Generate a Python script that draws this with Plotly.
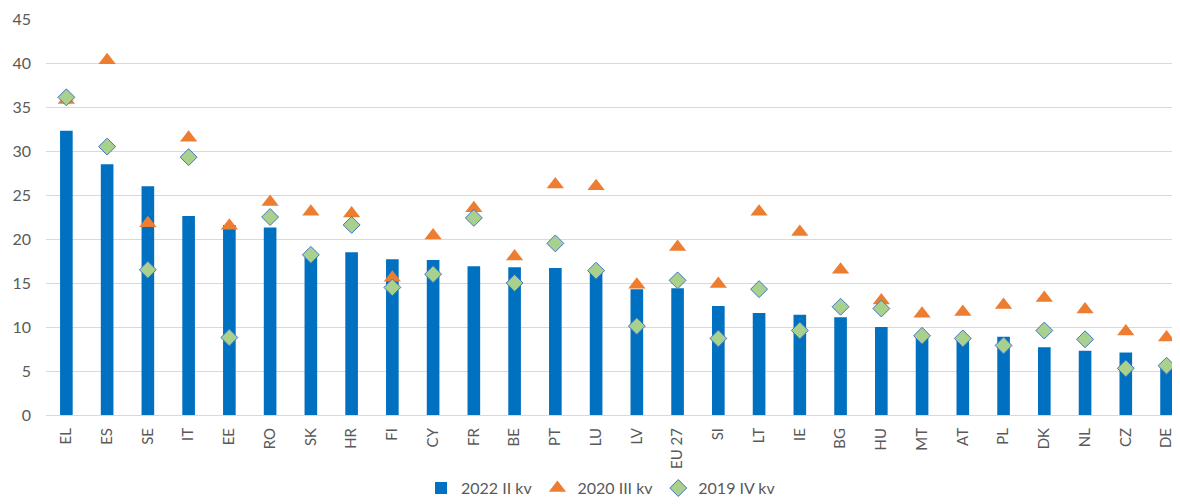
import plotly.graph_objects as go

countries = ["EL", "ES", "SE", "IT", "EE", "RO", "SK", "HR", "FI", "CY", "FR", "BE", "PT", "LU",
             "LV", "EU 27", "SI", "LT", "IE", "BG", "HU", "MT", "AT", "PL", "DK", "NL", "CZ", "DE"]
q2_2022 = [32.3, 28.5, 26.0, 22.6, 21.6, 21.3, 18.2, 18.5, 17.7, 17.6, 16.9, 16.8, 16.7, 16.4,
           14.3, 14.4, 12.4, 11.6, 11.4, 11.1, 10.0, 9.0, 8.7, 8.9, 7.7, 7.3, 7.1, 5.4]
q3_2020 = [35.8, 40.3, 21.8, 31.5, 21.5, 24.2, 23.1, 22.9, 15.6, 20.4, 23.5, 18.0, 26.2, 26.0,
           14.8, 19.1, 14.9, 23.1, 20.8, 16.5, 13.0, 11.5, 11.7, 12.5, 13.3, 12.0, 9.5, 8.8]
q4_2019 = [36.1, 30.5, 16.5, 29.3, 8.8, 22.5, 18.2, 21.6, 14.5, 16.0, 22.4, 15.0, 19.5, 16.4,
           10.1, 15.3, 8.7, 14.3, 9.6, 12.3, 12.1, 9.0, 8.7, 7.9, 9.6, 8.6, 5.3, 5.6]
y_ticks = [0, 5, 10, 15, 20, 25, 30, 35, 40, 45]

FONT = "Lato, 'Open Sans', sans-serif"
GRAY = "#595959"

fig = go.Figure()
fig.add_trace(go.Bar(
    x=countries, y=q2_2022, name="2022 II kv",
    marker=dict(color="#0070C0", line=dict(width=0)), width=0.31,
))
fig.add_trace(go.Scatter(
    x=countries, y=q3_2020, name="2020 III kv", mode="markers",
    marker=dict(symbol="triangle-up", size=15, color="#ED7D31", line=dict(width=0)),
))
fig.add_trace(go.Scatter(
    x=countries, y=q4_2019, name="2019 IV kv", mode="markers",
    marker=dict(symbol="diamond", size=13, color="#A9D18E", line=dict(width=1, color="#4472C4")),
))

fig.update_layout(
    width=1172, height=496,
    margin=dict(l=38, r=0, t=11, b=89, autoexpand=False),
    paper_bgcolor="white", plot_bgcolor="white",
    font=dict(family=FONT, color=GRAY, size=14),
    showlegend=True,
    legend=dict(orientation="h", x=0.506, xanchor="center", xref="container",
                y=0.032, yanchor="middle", yref="container",
                font=dict(size=16, color=GRAY), traceorder="normal", itemwidth=30),
    bargap=0.69,
)
fig.update_xaxes(
    range=[-0.5, 27.33], tickangle=-90, showgrid=False, showline=True,
    linecolor="#D9D9D9", linewidth=1, ticks="", ticklabelstandoff=6,
    tickfont=dict(size=15, color=GRAY), automargin=False,
)
fig.update_yaxes(
    range=[0, 45], tickvals=y_ticks, showgrid=True, gridcolor="#D9D9D9", gridwidth=1,
    zeroline=False, showline=False, ticks="", ticklabelstandoff=14,
    tickfont=dict(size=16, color=GRAY), automargin=False,
)

fig.write_html("out.html")
